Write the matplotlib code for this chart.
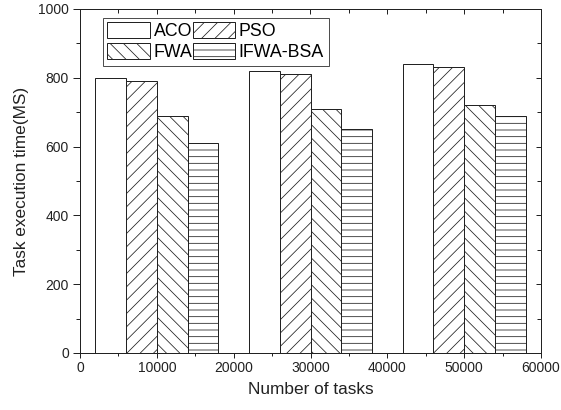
import matplotlib
matplotlib.use("Agg")
import matplotlib.pyplot as plt
from matplotlib.patches import Patch
from matplotlib.ticker import MultipleLocator
import numpy as np

# Task counts (group centres) and execution times per algorithm
task_counts = [10000, 30000, 50000]
algorithms = ["ACO", "PSO", "FWA", "IFWA-BSA"]
aco = [800, 820, 840]
pso = [790, 810, 830]
fwa = [690, 710, 720]
ifwa_bsa = [610, 650, 690]
series = [aco, pso, fwa, ifwa_bsa]
hatches = ["", "//", "\\\\", "--"]

plt.rcParams["font.family"] = ["Liberation Sans", "DejaVu Sans"]
plt.rcParams["hatch.linewidth"] = 0.7

DPI = 80
fig = plt.figure(figsize=(561 / DPI, 410 / DPI), dpi=DPI)
ax = fig.add_axes([80 / 561, 1 - 353 / 410, (541 - 80) / 561, (353 - 9) / 410])

bar_w = 4000
offsets = [-6000, -2000, 2000, 6000]
x = np.array(task_counts, dtype=float)
for vals, off, h in zip(series, offsets, hatches):
    ax.bar(x + off, vals, width=bar_w, facecolor="white", edgecolor="#222222",
           linewidth=0.9, hatch=h, zorder=2)

ax.set_xlim(0, 60000)
ax.set_ylim(0, 1000)
ax.xaxis.set_major_locator(MultipleLocator(10000))
ax.xaxis.set_minor_locator(MultipleLocator(5000))
ax.yaxis.set_major_locator(MultipleLocator(200))
ax.yaxis.set_minor_locator(MultipleLocator(100))
ax.tick_params(which="both", direction="out", labelsize=12.5, width=0.9,
               colors="#222222")
ax.tick_params(axis="x", which="major", length=4.5, pad=3)
ax.tick_params(axis="x", which="minor", length=2.7)
ax.tick_params(axis="y", which="major", length=6.3, pad=3.6)
ax.tick_params(axis="y", which="minor", length=3.6)
for s in ax.spines.values():
    s.set_linewidth(0.9)
    s.set_color("#222222")

# Mirrored inward ticks on the top and right
top = ax.secondary_xaxis("top")
top.xaxis.set_major_locator(MultipleLocator(10000))
top.xaxis.set_minor_locator(MultipleLocator(5000))
top.tick_params(which="both", direction="in", labeltop=False, width=0.9,
                colors="#222222")
top.tick_params(which="major", length=4.5)
top.tick_params(which="minor", length=3.5)
right = ax.secondary_yaxis("right")
right.yaxis.set_major_locator(MultipleLocator(200))
right.yaxis.set_minor_locator(MultipleLocator(100))
right.tick_params(which="both", direction="in", labelright=False, width=0.9,
                  colors="#222222")
right.tick_params(which="major", length=4.5)
right.tick_params(which="minor", length=3.5)

ax.set_xlabel("Number of tasks", fontsize=15.5, color="#222222", labelpad=6)
ax.set_ylabel("Task execution time(MS)", fontsize=15.5, color="#222222", labelpad=8)

handles = [Patch(facecolor="white", edgecolor="#222222", hatch=h, linewidth=0.9)
           for h in hatches]
order = [0, 2, 1, 3]
leg = ax.legend([handles[i] for i in order], [algorithms[i] for i in order],
                ncol=2, loc="upper left", bbox_to_anchor=(0.05, 0.974),
                fontsize=16, frameon=True, fancybox=False, edgecolor="#222222",
                handlelength=2.4, handleheight=1.0, handletextpad=0.2,
                columnspacing=0.0, labelspacing=0.15, borderpad=0.25,
                borderaxespad=0.0)
leg.get_frame().set_linewidth(0.9)

fig.savefig("out.png", dpi=DPI)
